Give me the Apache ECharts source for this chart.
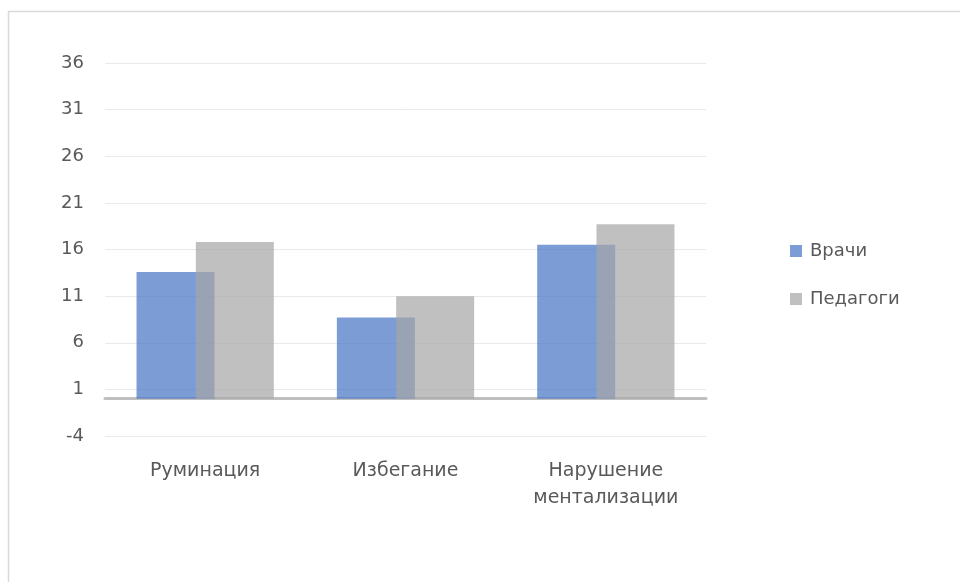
<!DOCTYPE html>
<html><head><meta charset="utf-8">
<script src="https://cdn.jsdelivr.net/npm/echarts@6/dist/echarts.min.js"></script>
<style>html,body{margin:0;padding:0;background:#fff}#c{width:960px;height:582px}</style>
</head><body><div id="c"></div>
<script>
const categories = ['Руминация', 'Избегание', 'Нарушение\nментализации'];
const doctors = [13.6, 8.7, 16.5];
const teachers = [16.8, 11.0, 18.7];
const seriesNames = ['Врачи', 'Педагоги'];
const yMin = -4, yMax = 36, yStep = 5;

const chart = echarts.init(document.getElementById('c'));
const font = '"DejaVu Sans", sans-serif';
chart.setOption({
  animation: false,
  graphic: [{type: 'polyline', shape: {points: [[8.5, 582], [8.5, 11.5], [960, 11.5]]},
             style: {fill: 'none', stroke: '#D9D9D9', lineWidth: 1.5}, silent: true}],
  grid: {left: 105, right: 254, top: 63, bottom: 146},
  legend: {
    orient: 'vertical', left: 790, top: 241, padding: 0, itemWidth: 12, itemHeight: 12, itemGap: 28,
    icon: 'rect',
    textStyle: {fontFamily: font, fontSize: 18, color: '#595959', lineHeight: 20, padding: [0, 0, 0, 3]},
    data: seriesNames
  },
  xAxis: {
    type: 'category', data: categories,
    axisLine: {onZero: true, lineStyle: {color: '#BFBFBF', width: 3}},
    axisTick: {show: false},
    axisLabel: {margin: 22, fontFamily: font, fontSize: 19, color: '#595959', lineHeight: 27}
  },
  yAxis: {
    type: 'value', min: yMin, max: yMax, interval: yStep,
    axisLine: {show: false}, axisTick: {show: false},
    axisLabel: {margin: 21, fontFamily: font, fontSize: 18, color: '#595959'},
    splitLine: {lineStyle: {color: '#E9E9E9', width: 1}}
  },
  series: [
    {name: seriesNames[0], type: 'bar', data: doctors, barWidth: 78, barGap: '-24%',
     itemStyle: {color: 'rgba(68,114,196,0.7)'}},
    {name: seriesNames[1], type: 'bar', data: teachers, barWidth: 78, barGap: '-24%',
     itemStyle: {color: 'rgba(165,165,165,0.7)'}}
  ]
});
</script></body></html>
